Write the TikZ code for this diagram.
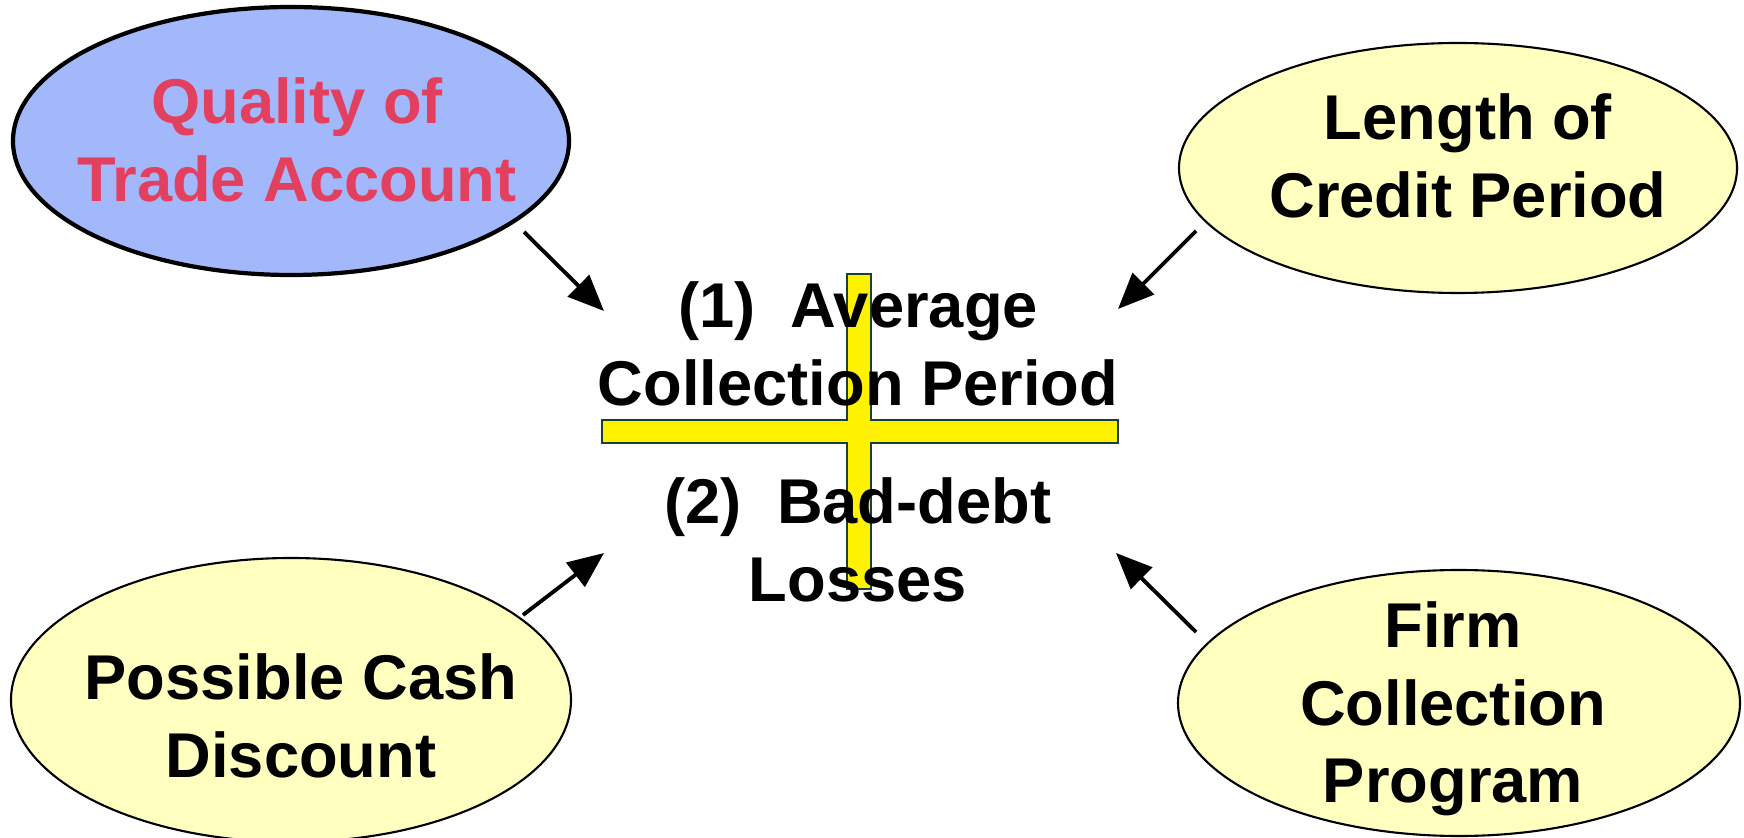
\documentclass[tikz,border=0pt]{standalone}
\usepackage{fontspec}
\setmainfont{Liberation Sans}
\usetikzlibrary{shapes.geometric}
\usetikzlibrary{arrows.meta}

\definecolor{bubbleblue}{RGB}{163,184,250}
\definecolor{bubbleyellow}{RGB}{255,255,191}
\definecolor{qualityred}{RGB}{226,64,94}
\definecolor{crossedge}{RGB}{22,64,58}

\tikzset{
  bubble/.style = {ellipse, draw=black, line width=0.6pt, fill=bubbleyellow, inner sep=0pt},
  label/.style  = {align=center, inner sep=0pt},
  arr/.style    = {-{Triangle[length=0.36cm, width=0.30cm]}, line width=1.1pt}
}

\begin{document}
\begin{tikzpicture}[font=\fontsize{18}{22}\selectfont\bfseries]
\useasboundingbox (0,0) rectangle (17.44,8.37);
% the four influences
\node[bubble, fill=bubbleblue, line width=1.2pt,
      minimum width=5.56cm, minimum height=2.68cm] (qual) at (2.91,6.96) {};
\node[bubble, minimum width=5.58cm, minimum height=2.50cm] (len) at (14.58,6.69) {};
\node[bubble, minimum width=5.60cm, minimum height=2.84cm] (cash) at (2.91,1.37) {};
\node[bubble, minimum width=5.62cm, minimum height=2.66cm] (firm) at (14.59,1.34) {};
\node[label, text=qualityred] (qual-text) at (2.97,6.97) {Quality of\\Trade Account};
\node[label] (len-text)  at (14.68,6.81) {Length of\\Credit Period};
\node[label] (cash-text) at (3.01,1.21) {Possible Cash\\Discount};
\node[label] (firm-text) at (14.53,1.28) {Firm\\Collection\\Program};
% the cross
\draw[fill=yellow, draw=crossedge, line width=0.8pt]
  (8.47,5.63) -- (8.71,5.63) -- (8.71,4.17) -- (11.18,4.17) -- (11.18,3.94)
  -- (8.71,3.94) -- (8.71,2.48) -- (8.47,2.48) -- (8.47,3.94) -- (6.02,3.94)
  -- (6.02,4.17) -- (8.47,4.17) -- cycle;
\node[label] (acp) at (8.58,4.93) {(1)\ \ Average\\Collection Period};
\node[label] (bdl) at (8.58,2.97) {(2)\ \ Bad-debt\\Losses};
% arrows
\coordinate (qual-out) at (5.24,6.05);
\coordinate (len-out)  at (11.96,6.06);
\coordinate (cash-out) at (5.23,2.22);
\coordinate (firm-out) at (11.96,2.05);
\coordinate (qual-in)  at (6.04,5.26);
\coordinate (len-in)   at (11.18,5.28);
\coordinate (cash-in)  at (6.04,2.84);
\coordinate (firm-in)  at (11.16,2.84);
\draw[arr] (qual-out) -- (qual-in);
\draw[arr] (len-out) -- (len-in);
\draw[arr] (cash-out) -- (cash-in);
\draw[arr] (firm-out) -- (firm-in);
\end{tikzpicture}
\end{document}
